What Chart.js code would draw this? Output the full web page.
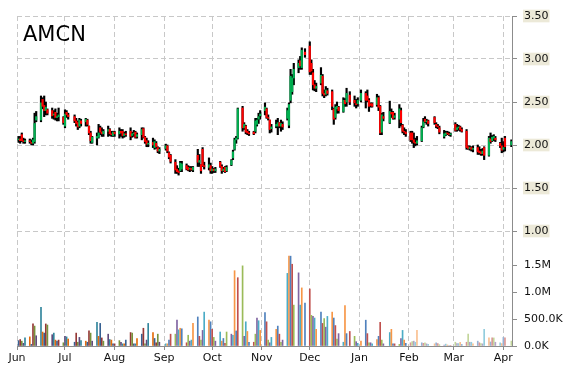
<!DOCTYPE html>
<html>
<head>
<meta charset="utf-8">
<script src="https://cdn.jsdelivr.net/npm/chart.js@4/dist/chart.umd.min.js"></script>
<style>
  html, body { margin: 0; padding: 0; background: #fff; }
</style>
</head>
<body>
<canvas id="chart" width="570" height="370"></canvas>
<script>
// AMCN daily prices, Jun 2014 - Apr 2015
const symbol = 'AMCN';
const firstDay = '2014-06-02';
const lastDay = '2015-04-06';
const holidays = ['2014-07-04', '2014-09-01', '2014-11-27', '2014-12-25',
  '2015-01-01', '2015-01-19', '2015-02-16', '2015-04-03'];

const monthLabels = ['Jun', 'Jul', 'Aug', 'Sep', 'Oct', 'Nov', 'Dec', 'Jan', 'Feb', 'Mar', 'Apr'];
const monthStarts = ['2014-06-01', '2014-07-01', '2014-08-01', '2014-09-01', '2014-10-01', '2014-11-01',
  '2014-12-01', '2015-01-01', '2015-02-01', '2015-03-01', '2015-04-01'];
const priceTicks = [1.0, 1.5, 2.0, 2.5, 3.0, 3.5];
const volumeTicks = [0, 500, 1000, 1500]; // thousands of shares

// one row per month
const opens = [
  2.06,2.07,2.12,2.05,2.04,2.05,2.03,2.02,2.04,2.29,2.29,2.53,2.46,2.40,2.41,2.40,2.35,2.38,2.32,2.33,2.32,
  2.22,2.38,2.35,2.33,2.28,2.26,2.22,2.28,2.27,2.29,2.22,2.14,2.03,2.08,2.09,2.20,2.15,2.13,2.16,2.18,2.13,2.11,
  2.15,2.13,2.16,2.16,2.11,2.13,2.16,2.11,2.13,2.15,2.10,2.12,2.19,2.09,2.05,2.01,2.03,1.97,2.02,1.97,1.93,
  1.96,1.99,1.91,1.88,1.80,1.72,1.70,1.70,1.72,1.76,1.74,1.72,1.73,1.71,1.88,1.80,1.77,1.95,1.76,1.74,1.76,
  1.70,1.72,1.70,1.80,1.75,1.70,1.74,1.70,1.77,1.85,1.95,2.06,2.08,2.43,2.20,2.22,2.16,2.14,2.15,2.16,2.24,2.30,2.34,
  2.40,2.42,2.32,2.29,2.19,2.22,2.22,2.26,2.22,2.24,2.31,2.23,2.52,2.62,2.78,2.90,2.98,2.90,3.08,
  3.15,2.95,2.84,2.70,2.66,2.72,2.80,2.60,2.59,2.63,2.62,2.42,2.32,2.42,2.44,2.39,2.52,2.50,2.58,2.52,2.48,2.48,
  2.52,2.60,2.57,2.52,2.48,2.48,2.47,2.55,2.45,2.15,2.33,2.26,2.38,2.38,2.32,2.30,2.40,2.23,2.16,2.15,
  2.14,2.14,2.06,2.03,2.02,2.05,2.21,2.30,2.27,2.28,2.32,2.24,2.22,2.20,2.10,2.12,2.14,2.13,2.12,
  2.24,2.18,2.20,2.21,2.18,2.16,1.98,1.96,1.97,1.95,1.97,1.93,1.92,1.90,1.97,1.88,2.07,2.05,2.08,2.08,2.02,1.99,
  1.95,2.08,2.00
];
const highs = [
  2.10,2.10,2.14,2.08,2.07,2.07,2.06,2.08,2.37,2.39,2.57,2.55,2.57,2.50,2.42,2.43,2.40,2.42,2.37,2.43,2.33,
  2.41,2.40,2.37,2.35,2.31,2.28,2.31,2.30,2.31,2.30,2.22,2.16,2.10,2.14,2.24,2.22,2.20,2.18,2.22,2.19,2.16,2.16,
  2.16,2.20,2.18,2.18,2.15,2.16,2.20,2.15,2.17,2.16,2.14,2.20,2.20,2.10,2.08,2.05,2.08,2.06,2.04,1.98,1.97,
  2.01,2.00,1.92,1.89,1.83,1.76,1.73,1.81,1.81,1.78,1.76,1.75,1.75,1.75,1.95,1.89,1.77,1.97,1.80,1.85,1.79,
  1.75,1.73,1.74,1.81,1.77,1.74,1.75,1.76,1.83,1.94,2.08,2.10,2.43,2.45,2.26,2.23,2.18,2.16,2.16,2.31,2.31,2.37,2.40,
  2.49,2.43,2.35,2.29,2.24,2.29,2.31,2.26,2.29,2.27,2.43,2.49,2.88,2.82,2.95,2.99,3.03,3.13,3.12,
  3.20,2.99,2.88,2.75,2.72,2.90,2.82,2.64,2.68,2.66,2.64,2.43,2.47,2.50,2.45,2.55,2.54,2.66,2.62,2.57,2.53,2.55,
  2.64,2.62,2.64,2.54,2.49,2.49,2.59,2.57,2.46,2.37,2.38,2.51,2.42,2.39,2.37,2.47,2.43,2.24,2.20,2.18,
  2.16,2.16,2.14,2.08,2.10,2.22,2.31,2.33,2.30,2.29,2.33,2.26,2.24,2.22,2.17,2.16,2.16,2.15,2.14,
  2.26,2.24,2.23,2.22,2.20,2.18,1.99,1.99,1.98,1.99,2.00,1.98,1.95,1.96,1.98,2.10,2.14,2.11,2.12,2.10,2.03,2.08,
  2.04,2.10,2.06
];
const lows = [
  2.03,2.02,2.04,2.02,2.02,2.02,2.00,2.00,2.02,2.27,2.27,2.42,2.33,2.35,2.35,2.31,2.30,2.29,2.28,2.28,2.24,
  2.20,2.32,2.30,2.26,2.22,2.18,2.20,2.22,2.22,2.22,2.12,2.02,2.02,2.00,2.08,2.12,2.10,2.10,2.10,2.11,2.10,2.10,
  2.10,2.08,2.10,2.08,2.09,2.10,2.06,2.09,2.10,2.08,2.08,2.06,2.08,2.02,1.98,1.98,1.97,1.95,1.96,1.91,1.90,
  1.94,1.91,1.84,1.79,1.67,1.67,1.65,1.69,1.69,1.71,1.70,1.69,1.70,1.69,1.75,1.75,1.67,1.75,1.72,1.71,1.67,
  1.67,1.68,1.68,1.74,1.67,1.69,1.68,1.69,1.76,1.83,1.94,2.02,2.07,2.16,2.18,2.13,2.12,2.11,2.12,2.14,2.22,2.25,2.30,
  2.35,2.31,2.29,2.14,2.15,2.20,2.12,2.20,2.16,2.18,2.29,2.20,2.49,2.59,2.70,2.84,2.88,2.88,3.02,
  2.82,2.82,2.64,2.63,2.62,2.70,2.57,2.55,2.57,2.58,2.41,2.24,2.30,2.37,2.37,2.38,2.45,2.45,2.47,2.45,2.43,2.45,
  2.50,2.43,2.50,2.39,2.44,2.44,2.45,2.40,2.12,2.12,2.28,2.25,2.32,2.30,2.30,2.20,2.22,2.14,2.12,2.10,
  2.04,2.02,1.97,1.99,2.00,2.04,2.20,2.26,2.24,2.22,2.24,2.20,2.19,2.13,2.08,2.11,2.12,2.11,2.10,
  2.16,2.16,2.17,2.16,2.15,1.95,1.95,1.94,1.93,1.92,1.89,1.89,1.88,1.88,1.83,1.87,2.02,2.04,2.05,2.04,1.97,1.91,
  1.92,1.93,1.98
];
const closes = [
  2.07,2.05,2.05,2.04,2.05,2.04,2.02,2.06,2.25,2.33,2.49,2.45,2.40,2.44,2.37,2.34,2.36,2.32,2.33,2.35,2.26,
  2.36,2.35,2.33,2.28,2.25,2.21,2.29,2.25,2.30,2.24,2.14,2.05,2.09,2.10,2.14,2.15,2.13,2.16,2.18,2.13,2.12,2.15,
  2.13,2.16,2.14,2.11,2.13,2.12,2.10,2.13,2.14,2.09,2.12,2.18,2.09,2.04,2.01,2.02,2.00,2.04,1.98,1.93,1.95,
  1.99,1.93,1.86,1.81,1.71,1.69,1.68,1.79,1.78,1.72,1.71,1.73,1.71,1.74,1.80,1.82,1.70,1.76,1.75,1.77,1.70,
  1.72,1.70,1.72,1.75,1.70,1.72,1.69,1.74,1.82,1.92,2.06,2.08,2.42,2.20,2.24,2.15,2.14,2.13,2.13,2.28,2.29,2.33,2.36,
  2.44,2.32,2.31,2.18,2.21,2.24,2.26,2.22,2.25,2.21,2.40,2.47,2.80,2.78,2.88,2.95,2.92,3.10,3.05,
  2.85,2.86,2.70,2.66,2.68,2.81,2.60,2.58,2.64,2.60,2.45,2.30,2.44,2.45,2.40,2.52,2.48,2.60,2.50,2.49,2.47,2.52,
  2.60,2.52,2.52,2.45,2.46,2.45,2.55,2.44,2.14,2.35,2.31,2.39,2.36,2.31,2.34,2.42,2.26,2.16,2.15,2.13,
  2.06,2.06,2.03,2.02,2.05,2.20,2.27,2.27,2.28,2.25,2.26,2.22,2.21,2.15,2.13,2.14,2.13,2.12,2.13,
  2.17,2.20,2.21,2.18,2.16,1.97,1.96,1.97,1.95,1.96,1.92,1.91,1.90,1.93,1.88,2.08,2.04,2.09,2.10,2.06,1.99,1.94,
  1.97,1.98,2.04
];
const volumesK = [
  100,120,90,50,150,170,30,410,370,190,720,260,240,410,390,210,240,110,90,110,60,
  180,170,130,70,240,70,160,100,90,70,280,240,90,440,180,420,150,90,220,120,110,40,
  40,100,70,40,40,110,250,240,40,40,140,220,330,40,110,420,250,140,60,220,70,
  40,40,110,220,220,480,300,330,320,60,200,90,110,420,540,180,110,290,630,480,450,
  310,160,90,260,90,140,50,260,220,200,1400,280,1270,1490,180,450,270,70,70,220,520,470,290,
  620,450,110,60,160,310,370,220,70,110,1350,1670,1670,1520,760,1360,760,1080,800,
  1060,570,550,520,310,630,420,510,350,550,630,520,380,130,230,70,750,230,270,180,80,50,
  90,480,230,60,60,40,120,180,440,110,40,250,310,40,40,30,140,290,110,50,
  60,80,90,70,290,60,50,60,40,30,40,60,45,25,15,35,20,10,10,
  70,45,45,70,30,70,220,70,70,40,90,60,45,40,310,150,75,150,150,70,60,45,
  160,150,90
];

const upColor = '#00b050';
const downColor = '#ff0000';
const volumePalettes = {
  dark: ['#376092', '#953735', '#77933c', '#604a7b', '#31859c', '#e46c0a'],
  normal: ['#4f81bd', '#c0504d', '#9bbb59', '#8064a2', '#4bacc6', '#f79646'],
  light: ['#95b3d7', '#d99694', '#c3d69b', '#b3a2c7', '#93cddd', '#fac090'],
};
const axisGray = '#8c8c8c';
const gridGray = '#c8c8c8';
const gridDash = [5, 3];
const tickFont = { family: 'DejaVu Sans', size: 11 };

const DAY = 86400000;
function dayOffset(iso) {
  return (Date.parse(iso) - Date.parse(firstDay)) / DAY;
}

// trading days: weekdays that are not market holidays
const tradingDays = [];
for (let t = Date.parse(firstDay); t <= Date.parse(lastDay); t += DAY) {
  const d = new Date(t);
  const iso = d.toISOString().slice(0, 10);
  if (d.getUTCDay() === 0 || d.getUTCDay() === 6 || holidays.includes(iso)) continue;
  tradingDays.push(iso);
}

const xs = tradingDays.map(dayOffset);
const wickData = xs.map((x, i) => ({ x, y: [lows[i], highs[i]] }));
const bodyData = xs.map((x, i) => ({ x, y: [opens[i], closes[i]] }));
const bodyColors = opens.map((o, i) => (closes[i] >= o ? upColor : downColor));
const volumeData = xs.map((x, i) => ({ x, y: volumesK[i] }));
const volumeColors = tradingDays.map((iso, i) => {
  const shade = iso < '2014-09-01' ? 'dark' : (iso < '2015-02-01' ? 'normal' : 'light');
  return volumePalettes[shade][i % 6];
});

const symbolLabel = {
  id: 'symbolLabel',
  afterDraw(chart) {
    const ctx = chart.ctx;
    ctx.save();
    ctx.font = '21px "DejaVu Sans"';
    ctx.fillStyle = '#000';
    ctx.textBaseline = 'alphabetic';
    ctx.fillText(symbol, 23, 41);
    ctx.restore();
  },
};

new Chart(document.getElementById('chart'), {
  type: 'bar',
  data: {
    datasets: [
      {
        data: bodyData,
        backgroundColor: bodyColors,
        barThickness: 1.5,
        grouped: false,
        yAxisID: 'y',
        order: 0,
      },
      {
        data: wickData,
        backgroundColor: '#000',
        barThickness: 1.5,
        grouped: false,
        yAxisID: 'y',
        order: 1,
      },
      {
        data: volumeData,
        backgroundColor: volumeColors,
        barThickness: 1,
        grouped: false,
        yAxisID: 'yv',
        order: 2,
      },
    ],
  },
  options: {
    responsive: false,
    animation: false,
    layout: { padding: { top: 16, left: 17, right: 0, bottom: 0 } },
    plugins: {
      legend: { display: false },
      tooltip: { enabled: false },
    },
    scales: {
      x: {
        type: 'linear',
        min: -1,
        max: 308.4,
        offset: false,
        afterBuildTicks: (s) => { s.ticks = monthStarts.map((d) => ({ value: dayOffset(d) })); },
        afterFit: (s) => { s.height = 24; },
        grid: { offset: false, color: gridGray, tickColor: axisGray, tickLength: 4, tickBorderDash: [] },
        border: { color: axisGray, dash: gridDash },
        ticks: {
          callback: (v, i) => monthLabels[i],
          autoSkip: false,
          maxRotation: 0,
          padding: 2,
          color: '#111',
          font: tickFont,
        },
      },
      y: {
        position: 'right',
        stack: 'right',
        stackWeight: 215,
        min: 1,
        max: 3.5,
        afterBuildTicks: (s) => { s.ticks = priceTicks.map((v) => ({ value: v })); },
        afterFit: (s) => { s.width = 58; },
        grid: { color: gridGray, tickColor: axisGray, tickLength: 5, tickBorderDash: [] },
        border: { color: axisGray, dash: gridDash },
        ticks: {
          callback: (v) => Number(v).toFixed(2),
          autoSkip: false,
          padding: 7,
          color: '#111',
          font: { ...tickFont, lineHeight: 1.15 },
          showLabelBackdrop: true,
          backdropColor: '#ece9d8',
          backdropPadding: { top: 0, bottom: 0, left: 1, right: 1 },
        },
      },
      yv: {
        position: 'right',
        stack: 'right',
        stackWeight: 115,
        min: 0,
        max: 2138,
        afterBuildTicks: (s) => { s.ticks = volumeTicks.map((v) => ({ value: v })); },
        afterFit: (s) => { s.width = 58; },
        grid: { drawOnChartArea: false, color: axisGray, tickColor: axisGray, tickLength: 5 },
        border: { color: axisGray },
        ticks: {
          callback: (v) => (v >= 1000 ? (v / 1000).toFixed(1) + 'M' : Number(v).toFixed(1) + 'K'),
          autoSkip: false,
          padding: 7,
          color: '#111',
          font: tickFont,
        },
      },
    },
  },
  plugins: [symbolLabel],
});
</script>
</body>
</html>
